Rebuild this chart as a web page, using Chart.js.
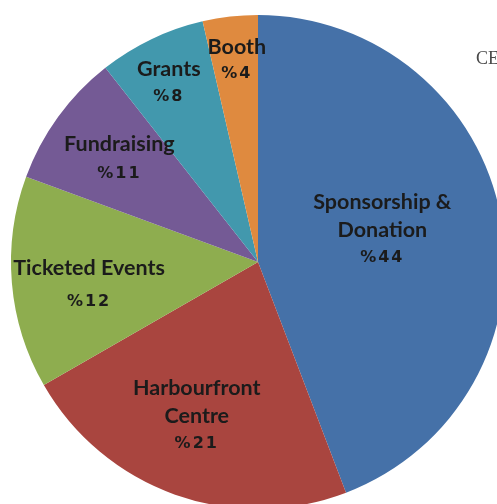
<!DOCTYPE html>
<html>
<head>
<meta charset="utf-8">
<script src="https://cdn.jsdelivr.net/npm/chart.js@4"></script>
<style>
  html, body { margin: 0; padding: 0; background: #fff; overflow: hidden; width: 497px; height: 504px; }
  #wrap { position: absolute; left: 0; top: 0; width: 516px; height: 516px; }
  #side { position: absolute; left: 476px; top: 49px; font-family: "Liberation Serif", serif; font-size: 18px; line-height: 18px; color: #4a4a4a; white-space: nowrap; }
</style>
</head>
<body>
<div id="wrap"><canvas id="pie" width="516" height="516"></canvas></div>
<div id="side">CE</div>
<script>
// Revenue sources. Slice sizes read off the drawn angles,
// percent texts as printed on the chart (they don't quite agree)
const categories = ['Sponsorship & Donation', 'Harbourfront Centre', 'Ticketed Events', 'Fundraising', 'Grants', 'Booth'];
const labelLines = [['Sponsorship &', 'Donation'], ['Harbourfront', 'Centre'], ['Ticketed Events'], ['Fundraising'], ['Grants'], ['Booth']];
const shares = [44.2, 22.5, 13.9, 8.8, 7.0, 3.6];
const printedPct = ['%44', '%21', '%12', '%11', '%8', '%4'];

const colors = ['#4571a8', '#a9453f', '#8ead4f', '#745a95', '#4298ad', '#df8a3f'];
// label placement: fraction of radius, angle nudge (deg), line gap (px)
const labelRadius = [0.52, 0.67, 0.69, 0.70, 0.81, 0.82];
const labelNudge = [-4.1, 2.1, -2.8, 0.7, -0.9, 0.5];
const labelGap = [28, 28, 34, 30, 27, 27];

const sliceLabels = {
    id: 'sliceLabels',
    afterDatasetsDraw(chart) {
        const ctx = chart.ctx;
        const meta = chart.getDatasetMeta(0);
        meta.data.forEach((arc, i) => {
            const mid = (arc.startAngle + arc.endAngle) / 2 + labelNudge[i] * Math.PI / 180;
            const r = arc.outerRadius * labelRadius[i];
            const x = arc.x + Math.cos(mid) * r;
            const y = arc.y + Math.sin(mid) * r;
            const lines = labelLines[i].concat([printedPct[i]]);
            const gap = labelGap[i];
            const top = y - (lines.length - 1) * gap / 2;
            ctx.save();
            ctx.fillStyle = '#1b1b1b';
            ctx.textAlign = 'center';
            ctx.textBaseline = 'middle';
            lines.forEach((t, k) => {
                if (k === lines.length - 1) {
                    ctx.font = 'bold 16px "DejaVu Sans"';
                    ctx.letterSpacing = '2px';
                } else {
                    ctx.font = 'bold 21.5px Lato';
                    ctx.letterSpacing = '0px';
                }
                ctx.fillText(t, x, top + k * gap);
            });
            ctx.restore();
        });
    }
};

new Chart(document.getElementById('pie'), {
    type: 'pie',
    data: {
        labels: categories,
        datasets: [{
            data: shares,
            backgroundColor: colors,
            borderWidth: 0
        }]
    },
    options: {
        responsive: false,
        animation: false,
        layout: { padding: { left: 11, right: 11, top: 15, bottom: 7 } },
        plugins: {
            legend: { display: false },
            tooltip: { enabled: false }
        }
    },
    plugins: [sliceLabels]
});
</script>
</body>
</html>
